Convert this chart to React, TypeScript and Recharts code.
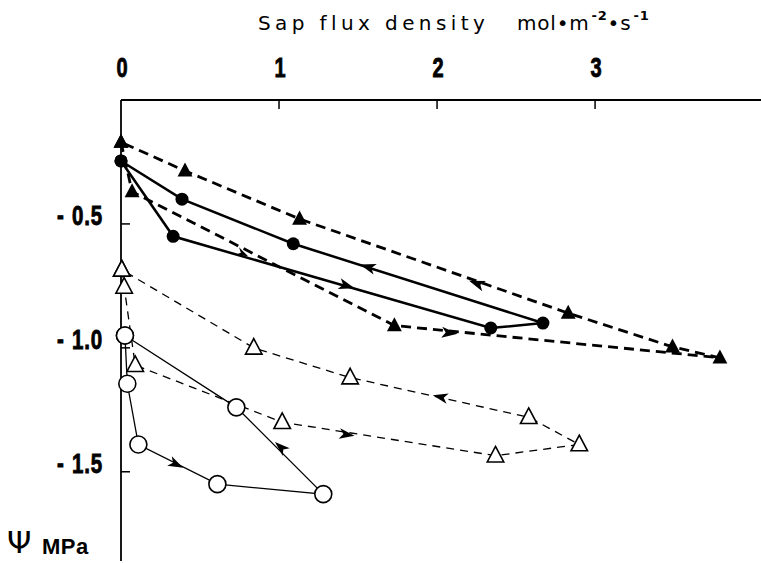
import { ComposedChart, Line, Scatter, XAxis, YAxis } from "recharts";

// Sap flux density (mol m-2 s-1) and water potential (MPa), in path order
const filledTriFlux = [0, 0.07, 1.73, 3.79, 3.49, 2.83, 1.13, 0.405, 0];
const filledTriPsi = [-0.17, -0.37, -0.91, -1.04, -0.996, -0.86, -0.48, -0.286, -0.17];

const filledDotFlux = [0, 0.33, 2.34, 2.67, 1.09, 0.386, 0];
const filledDotPsi = [-0.246, -0.55, -0.92, -0.9, -0.58, -0.4, -0.246];

const openTriFlux = [0.005, 0.02, 0.09, 1.02, 2.37, 2.9, 2.58, 1.45, 0.84, 0.005];
const openTriPsi = [-0.685, -0.754, -1.07, -1.3, -1.435, -1.39, -1.28, -1.12, -1.0, -0.685];

const openDotFlux = [0.025, 0.04, 0.11, 0.61, 1.28, 0.73, 0.025];
const openDotPsi = [-0.95, -1.145, -1.39, -1.55, -1.59, -1.24, -0.95];

// direction arrows: where they sit and the point they head for
const arrowFlux = [1.56, 1.43, 2.25, 2.08, 0.77, 2.02, 1.43, 0.35, 1.01];
const arrowPsi = [-0.673, -0.75, -0.74, -0.94, -0.62, -1.198, -1.35, -1.47, -1.4];
const arrowToFlux = [1.09, 2.34, 1.13, 3.79, 1.73, 1.45, 2.37, 0.61, 0.73];
const arrowToPsi = [-0.58, -0.92, -0.48, -1.04, -0.91, -1.12, -1.435, -1.55, -1.24];
const arrowSize = [1, 1, 1, 1, 0.75, 0.95, 0.95, 0.95, 0.95];

const xTicks = [0, 1, 2, 3];
const yTicks = [-0.5, -1.0, -1.5];

const X_MAX = 4.05;
const Y_MIN = -1.86;
const PLOT_W = 640;
const PLOT_H = 461;

const pts = (xs: number[], ys: number[]) => xs.map((x, i) => ({ x, y: ys[i] }));

const arrows = arrowFlux.map((x, i) => ({
  x,
  y: arrowPsi[i],
  tx: arrowToFlux[i],
  ty: arrowToPsi[i],
  s: arrowSize[i],
}));

const numFont = "'Liberation Sans', Arial, sans-serif";

const XTick = ({ x, y, payload }: any) => (
  <g>
    <text
      transform={`translate(${x + 1},${y - 23}) scale(0.8,1.1)`}
      textAnchor="middle"
      fontFamily={numFont}
      fontWeight={700}
      fontSize={25}
      fill="#000"
      stroke="#000"
      strokeWidth={0.8}
    >
      {payload.value}
    </text>
    {payload.value !== 0 && <line x1={x} y1={y} x2={x} y2={y + 9} stroke="#000" strokeWidth={1.5} />}
  </g>
);

const YTick = ({ x, y, payload }: any) => (
  <g>
    <text
      transform={`translate(${x - 18},${y + 1}) scale(0.82,1.08)`}
      textAnchor="end"
      fontFamily={numFont}
      fontWeight={700}
      fontSize={25}
      letterSpacing={1}
      fill="#000"
      stroke="#000"
      strokeWidth={0.8}
    >
      -<tspan dx={9}>{Math.abs(payload.value).toFixed(1)}</tspan>
    </text>
    <line x1={x} y1={y} x2={x + 9} y2={y} stroke="#000" strokeWidth={1.5} />
  </g>
);

const tri = (cx: number, cy: number, s: number) =>
  `M${cx},${cy - s * 0.62} L${cx + s * 0.55},${cy + s * 0.42} L${cx - s * 0.55},${cy + s * 0.42} Z`;

const FilledTri = (p: any) => <path key={p.index} d={tri(p.cx, p.cy, 13.5)} fill="#000" stroke="none" />;
const OpenTri = (p: any) => (
  <path key={p.index} d={tri(p.cx, p.cy, 15)} fill="#fff" stroke="#000" strokeWidth={1.6} />
);
const FilledDot = (p: any) => <circle key={p.index} cx={p.cx} cy={p.cy} r={6.5} fill="#000" />;
const OpenDot = (p: any) => (
  <circle key={p.index} cx={p.cx} cy={p.cy} r={8.5} fill="#fff" stroke="#000" strokeWidth={1.6} />
);

const Arrow = (p: any) => {
  const d = p.payload;
  const dx = (d.tx - d.x) * (PLOT_W / X_MAX);
  const dy = -(d.ty - d.y) * (PLOT_H / -Y_MIN);
  const ang = (Math.atan2(dy, dx) * 180) / Math.PI;
  const L = 16 * d.s;
  const W = 5.5 * d.s;
  return (
    <path
      d={`M${L / 2},0 L${-L / 2},${-W} L${-L / 2 + 4},0 L${-L / 2},${W} Z`}
      transform={`translate(${p.cx},${p.cy}) rotate(${ang})`}
      fill="#000"
    />
  );
};

const titleFont = "'DejaVu Sans', sans-serif";

export default function App() {
  return (
    <div style={{ position: "absolute", left: 0, top: 0, width: 761, height: 563, background: "#fff" }}>
      <ComposedChart width={761} height={563} margin={{ top: 0, right: 0, bottom: 2, left: 0 }}>
        <XAxis
          type="number"
          dataKey="x"
          orientation="top"
          domain={[0, X_MAX]}
          ticks={xTicks}
          height={100}
          tickSize={0}
          tickMargin={0}
          tickLine={false}
          tick={<XTick />}
          axisLine={{ stroke: "#000", strokeWidth: 1.8 }}
        />
        <YAxis
          type="number"
          dataKey="y"
          domain={[Y_MIN, 0]}
          ticks={yTicks}
          width={121}
          tickSize={0}
          tickMargin={0}
          tickLine={false}
          tick={<YTick />}
          axisLine={{ stroke: "#000", strokeWidth: 1.8 }}
        />
        <Line
          data={pts(openTriFlux, openTriPsi)}
          dataKey="y"
          stroke="#000"
          strokeWidth={1.3}
          strokeDasharray="8 6"
          dot={OpenTri}
          activeDot={false}
          isAnimationActive={false}
        />
        <Line
          data={pts(openDotFlux, openDotPsi)}
          dataKey="y"
          stroke="#000"
          strokeWidth={1.3}
          dot={OpenDot}
          activeDot={false}
          isAnimationActive={false}
        />
        <Line
          data={pts(filledTriFlux, filledTriPsi)}
          dataKey="y"
          stroke="#000"
          strokeWidth={2.8}
          strokeDasharray="10 6"
          dot={FilledTri}
          activeDot={false}
          isAnimationActive={false}
        />
        <Line
          data={pts(filledDotFlux, filledDotPsi)}
          dataKey="y"
          stroke="#000"
          strokeWidth={2.5}
          dot={FilledDot}
          activeDot={false}
          isAnimationActive={false}
        />
        <Scatter data={arrows} dataKey="y" shape={Arrow} isAnimationActive={false} />
      </ComposedChart>
      <svg width={761} height={563} style={{ position: "absolute", left: 0, top: 0, pointerEvents: "none" }}>
        <text x={258} y={30} fontFamily={titleFont} fontSize={20} letterSpacing={4.4} fill="#000">
          Sap flux density
        </text>
        <text x={517} y={30} fontFamily={titleFont} fontSize={20} letterSpacing={0.8} fill="#000">
          mol•m
          <tspan dx={2} dy={-10} fontSize={13} fontWeight={700}>
            -2
          </tspan>
          <tspan dy={10}>•s</tspan>
          <tspan dx={2} dy={-10} fontSize={13} fontWeight={700}>
            -1
          </tspan>
        </text>
        <text x={7} y={553} fontFamily={titleFont} fontSize={31} fill="#000">
          Ψ
        </text>
        <text x={42} y={554} fontFamily={numFont} fontSize={22} fontWeight={700} letterSpacing={0.5} fill="#000">
          MPa
        </text>
      </svg>
    </div>
  );
}
